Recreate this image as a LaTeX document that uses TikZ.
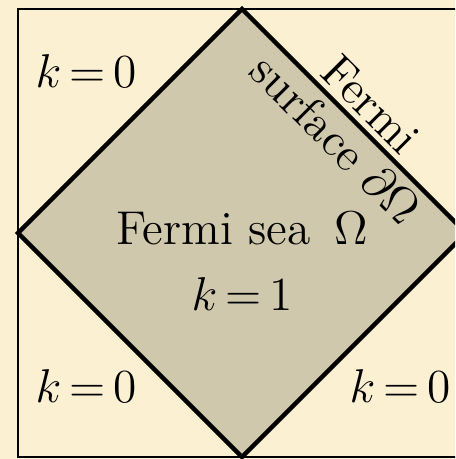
\RequirePackage{fix-cm}
\documentclass[tikz,border=0pt]{standalone}
\usepackage{fontspec}
\usetikzlibrary{calc}
\definecolor{bgsand}{RGB}{252,240,211}
\definecolor{seasand}{RGB}{207,200,172}
\thickmuskip=3mu\relax
\tikzset{
  zonelabel/.style={anchor=base,inner sep=0pt,font=\fontsize{13.5}{16}\selectfont},
}

\begin{document}
\begin{tikzpicture}[line join=miter]
\useasboundingbox (-2.42,-2.26) rectangle (2.13,2.33);
\fill[bgsand] (-2.42,-2.26) rectangle (2.13,2.33);
\clip (-2.42,-2.26) rectangle (2.13,2.33);
% ---------- zone ----------
\draw[line width=0.8pt] (-2.24,-2.24) rectangle (2.24,2.24);
% ---------- Fermi sea ----------
\coordinate (top) at (0,2.24);
\coordinate (right) at (2.24,0);
\coordinate (bot) at (0,-2.24);
\coordinate (left) at (-2.24,0);
\filldraw[fill=seasand,line width=1.3pt] (top) -- (right) -- (bot) -- (left) -- cycle;
\coordinate (mid) at ($(top)!0.5!(right)$);
\node[zonelabel,rotate=-45] (fermi) at ($(mid)+(45:0.08)$) {Fermi};
\node[zonelabel,rotate=-45] (surface) at ($(mid)+(225:0.42)$) {surface $\partial\Omega$};
\node[zonelabel] (sea) at (0,-0.12) {Fermi sea \,$\Omega$};
\node[zonelabel] (kin) at (0,-0.77) {$k=1$};
% ---------- outside ----------
\node[zonelabel] (ktl) at (-1.56,1.45) {$k=0$};
\node[zonelabel] (kbl) at (-1.56,-1.69) {$k=0$};
\node[zonelabel] (kbr) at (1.58,-1.69) {$k=0$};
\end{tikzpicture}
\end{document}
